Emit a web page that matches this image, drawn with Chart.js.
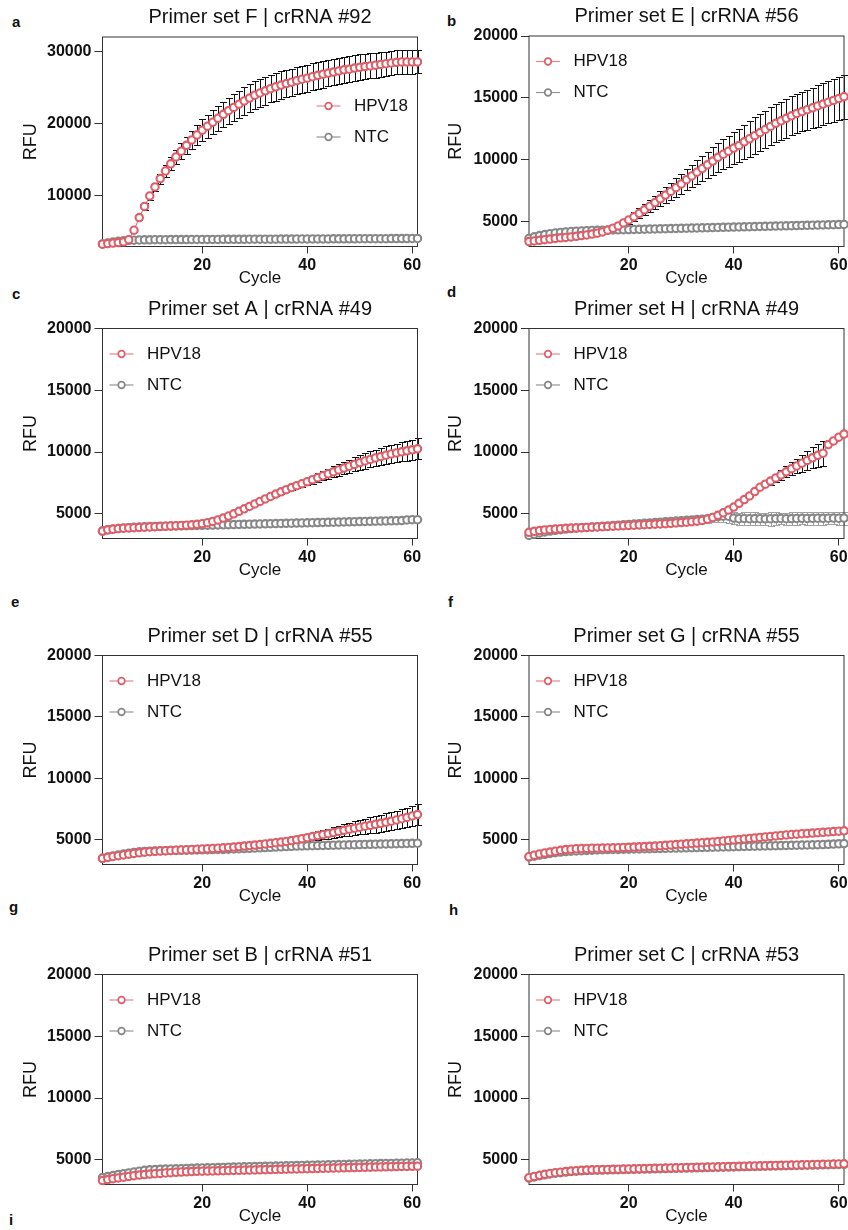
<!DOCTYPE html>
<html>
<head>
<meta charset="utf-8">
<title>HPV18 primer set screening</title>
<script src="https://cdn.jsdelivr.net/npm/chart.js@4.4.1/dist/chart.umd.min.js"></script>
<style>
  body { margin: 0; background: #fff; width: 848px; height: 1230px; position: relative; overflow: hidden;
         font-family: "Liberation Sans", Arial, sans-serif; }
  canvas { position: absolute; }
  .tag { position: absolute; font-weight: bold; font-size: 15px; line-height: 15px; color: #111; }
</style>
</head>
<body>

<div class="tag" style="left:12px;top:14px">a</div>
<div class="tag" style="left:447px;top:13px">b</div>
<div class="tag" style="left:12px;top:286px">c</div>
<div class="tag" style="left:447px;top:284px">d</div>
<div class="tag" style="left:11px;top:594px">e</div>
<div class="tag" style="left:448px;top:594px">f</div>
<div class="tag" style="left:9px;top:899px">g</div>
<div class="tag" style="left:449px;top:902px">h</div>
<div class="tag" style="left:9px;top:1212px">i</div>

<canvas id="cF" width="424" height="290" style="left:0;top:0"></canvas>
<canvas id="cE" width="424" height="290" style="left:424px;top:0"></canvas>
<canvas id="cA" width="424" height="310" style="left:0;top:290px"></canvas>
<canvas id="cH" width="424" height="310" style="left:424px;top:290px"></canvas>
<canvas id="cD" width="424" height="320" style="left:0;top:600px"></canvas>
<canvas id="cG" width="424" height="320" style="left:424px;top:600px"></canvas>
<canvas id="cB" width="424" height="310" style="left:0;top:920px"></canvas>
<canvas id="cC" width="424" height="310" style="left:424px;top:920px"></canvas>

<script>
// cycle numbers (x)
const cycles = [1, 2, 3, 4, 5, 6, 7, 8, 9, 10,
  11, 12, 13, 14, 15, 16, 17, 18, 19, 20,
  21, 22, 23, 24, 25, 26, 27, 28, 29, 30,
  31, 32, 33, 34, 35, 36, 37, 38, 39, 40,
  41, 42, 43, 44, 45, 46, 47, 48, 49, 50,
  51, 52, 53, 54, 55, 56, 57, 58, 59, 60, 61];

const xTicks = [20, 40, 60];
const yTicksF = [10000, 20000, 30000];
const yTicks = [5000, 10000, 15000, 20000];
const seriesNames = ['HPV18', 'NTC'];

// Primer set F | crRNA #92
const hpvF = [3320, 3400, 3480, 3550, 3650, 3950, 5250, 7000, 8550, 10000,
  11250, 12400, 13450, 14450, 15400, 16200, 17000, 17750, 18450, 19100,
  19650, 20200, 20750, 21300, 21800, 22250, 22700, 23150, 23550, 23950,
  24250, 24550, 24850, 25100, 25350, 25550, 25750, 25950, 26150, 26300,
  26500, 26700, 26850, 27000, 27150, 27300, 27450, 27550, 27700, 27800,
  27900, 28000, 28100, 28200, 28300, 28400, 28500, 28550, 28550, 28550, 28550];
const errF = [50, 50, 50, 60, 80, 150, 300, 400, 450, 500,
  600, 700, 800, 900, 1000, 1100, 1200, 1300, 1400, 1500,
  1600, 1650, 1700, 1750, 1800, 1850, 1850, 1900, 1900, 1900,
  1900, 1900, 1900, 1900, 1900, 1880, 1860, 1850, 1850, 1850,
  1850, 1850, 1850, 1840, 1830, 1820, 1810, 1800, 1800, 1780,
  1760, 1740, 1720, 1700, 1680, 1660, 1650, 1640, 1620, 1610, 1600];
const ntcF = [3350, 3500, 3620, 3720, 3800, 3850, 3880, 3900, 3920, 3930,
  3940, 3945, 3950, 3955, 3960, 3960, 3965, 3970, 3970, 3975,
  3980, 3980, 3985, 3990, 3990, 3995, 4000, 4000, 4005, 4010,
  4010, 4015, 4020, 4020, 4025, 4030, 4030, 4035, 4040, 4040,
  4045, 4050, 4050, 4055, 4060, 4060, 4065, 4070, 4070, 4075,
  4080, 4080, 4085, 4090, 4090, 4095, 4100, 4100, 4105, 4110, 4110];

// Primer set E | crRNA #56
const hpvE = [3400, 3450, 3500, 3550, 3600, 3650, 3700, 3730, 3770, 3820,
  3880, 3930, 4000, 4080, 4180, 4320, 4480, 4660, 4900, 5150,
  5400, 5680, 5960, 6250, 6550, 6850, 7150, 7450, 7750, 8050,
  8400, 8700, 9000, 9300, 9600, 9900, 10200, 10450, 10700, 10950,
  11150, 11450, 11700, 11950, 12200, 12450, 12700, 12950, 13150, 13350,
  13550, 13750, 13900, 14050, 14200, 14350, 14500, 14650, 14800, 14950, 15100];
const errE = [100, 100, 100, 100, 100, 100, 100, 100, 100, 100,
  100, 100, 100, 110, 120, 130, 150, 200, 250, 300,
  350, 400, 450, 500, 550, 600, 650, 700, 750, 800,
  850, 900, 950, 1000, 1050, 1100, 1150, 1200, 1250, 1300,
  1350, 1400, 1450, 1480, 1500, 1520, 1530, 1540, 1550, 1560,
  1570, 1580, 1600, 1620, 1640, 1660, 1680, 1700, 1730, 1760, 1780];
const ntcE = [3650, 3780, 3880, 3960, 4030, 4090, 4140, 4180, 4210, 4240,
  4260, 4280, 4300, 4310, 4320, 4330, 4340, 4350, 4360, 4370,
  4380, 4390, 4400, 4410, 4420, 4430, 4440, 4450, 4460, 4470,
  4480, 4490, 4500, 4510, 4520, 4530, 4540, 4550, 4560, 4570,
  4580, 4590, 4600, 4610, 4620, 4630, 4640, 4650, 4660, 4670,
  4680, 4690, 4700, 4710, 4720, 4730, 4740, 4750, 4760, 4770, 4780];

// Primer set A | crRNA #49
const hpvA = [3600, 3700, 3750, 3800, 3830, 3860, 3880, 3900, 3920, 3940,
  3960, 3980, 4000, 4020, 4040, 4060, 4080, 4110, 4150, 4200,
  4280, 4380, 4500, 4650, 4820, 5000, 5200, 5400, 5600, 5800,
  6000, 6200, 6400, 6600, 6780, 6950, 7120, 7280, 7440, 7600,
  7760, 7920, 8080, 8240, 8400, 8550, 8700, 8850, 9000, 9150,
  9280, 9400, 9520, 9630, 9740, 9840, 9930, 10020, 10100, 10180, 10260];
const errA = [50, 50, 50, 50, 50, 50, 50, 50, 50, 50,
  50, 50, 50, 50, 50, 50, 50, 50, 50, 50,
  50, 50, 50, 50, 50, 50, 50, 50, 50, 50,
  80, 100, 120, 140, 160, 180, 200, 230, 260, 290,
  320, 350, 380, 410, 440, 470, 500, 530, 560, 590,
  620, 650, 680, 700, 720, 740, 760, 780, 800, 830, 860];
const ntcA = [3600, 3700, 3760, 3810, 3850, 3880, 3910, 3930, 3950, 3970,
  3980, 3990, 4000, 4010, 4020, 4030, 4040, 4050, 4060, 4070,
  4080, 4090, 4100, 4110, 4120, 4130, 4140, 4150, 4160, 4170,
  4180, 4190, 4200, 4210, 4220, 4230, 4240, 4250, 4260, 4270,
  4280, 4290, 4300, 4310, 4320, 4330, 4340, 4350, 4360, 4370,
  4380, 4390, 4400, 4410, 4420, 4430, 4440, 4450, 4500, 4520, 4520];

// Primer set H | crRNA #49
const hpvH = [3500, 3580, 3640, 3690, 3730, 3760, 3790, 3820, 3840, 3860,
  3880, 3900, 3920, 3940, 3960, 3980, 4000, 4020, 4040, 4060,
  4080, 4100, 4120, 4140, 4160, 4180, 4200, 4230, 4260, 4290,
  4320, 4360, 4400, 4460, 4560, 4700, 4880, 5080, 5300, 5540,
  5850, 6150, 6450, 6800, 7150, 7400, 7650, 7900, 8150, 8400,
  8650, 8870, 9100, 9320, 9530, 9730, 9900, 10600, 10900, 11200, 11450];
const errH = [0, 0, 0, 0, 0, 0, 0, 0, 0, 0,
  0, 0, 0, 0, 0, 0, 0, 0, 0, 0,
  0, 0, 0, 0, 0, 0, 0, 0, 0, 0,
  0, 0, 0, 0, 0, 0, 0, 0, 0, 0,
  0, 0, 0, 0, 0, 0, 300, 350, 400, 450,
  520, 600, 680, 760, 840, 920, 1000, 0, 0, 0, 0];
const ntcH = [3250, 3350, 3450, 3530, 3600, 3660, 3710, 3760, 3800, 3840,
  3870, 3900, 3930, 3960, 3990, 4020, 4050, 4080, 4110, 4140,
  4170, 4200, 4230, 4260, 4290, 4320, 4350, 4380, 4410, 4440,
  4470, 4500, 4530, 4560, 4600, 4700, 4760, 4800, 4800, 4650,
  4600, 4620, 4600, 4610, 4600, 4590, 4600, 4610, 4620, 4600,
  4610, 4620, 4630, 4620, 4630, 4640, 4630, 4640, 4650, 4640, 4650];
const ntcErrH = [80, 80, 80, 80, 80, 80, 80, 80, 80, 80,
  80, 80, 80, 80, 80, 80, 80, 80, 80, 80,
  150, 150, 160, 150, 160, 170, 160, 170, 180, 180,
  200, 220, 250, 280, 320, 380, 450, 500, 520, 500,
  480, 500, 520, 500, 490, 510, 560, 500, 480, 500,
  510, 500, 490, 500, 520, 510, 500, 490, 500, 520, 530];

// Primer set D | crRNA #55
const hpvD = [3500, 3580, 3650, 3720, 3780, 3840, 3900, 3950, 4000, 4040,
  4070, 4100, 4120, 4140, 4160, 4180, 4200, 4220, 4240, 4260,
  4280, 4300, 4330, 4360, 4390, 4420, 4460, 4500, 4540, 4580,
  4620, 4670, 4720, 4770, 4820, 4880, 4950, 5020, 5100, 5180,
  5270, 5350, 5430, 5510, 5600, 5690, 5780, 5870, 5950, 6030,
  6110, 6190, 6270, 6350, 6430, 6520, 6620, 6720, 6830, 6950, 7060];
const errD = [50, 50, 50, 50, 50, 50, 50, 50, 50, 50,
  50, 50, 50, 50, 50, 50, 50, 50, 50, 50,
  50, 50, 50, 50, 50, 50, 50, 50, 50, 50,
  50, 60, 80, 100, 130, 160, 190, 220, 250, 280,
  310, 340, 370, 400, 430, 460, 490, 520, 550, 580,
  610, 640, 670, 700, 720, 740, 760, 780, 800, 820, 840];
const ntcD = [3500, 3600, 3700, 3780, 3850, 3920, 3980, 4030, 4060, 4080,
  4100, 4110, 4120, 4130, 4140, 4150, 4160, 4170, 4180, 4190,
  4200, 4210, 4220, 4230, 4240, 4260, 4280, 4300, 4320, 4340,
  4360, 4380, 4400, 4420, 4440, 4460, 4480, 4500, 4510, 4520,
  4530, 4540, 4550, 4560, 4570, 4580, 4590, 4600, 4610, 4620,
  4630, 4640, 4650, 4660, 4670, 4680, 4690, 4700, 4710, 4720, 4730];

// Primer set G | crRNA #55
const hpvG = [3640, 3760, 3860, 3940, 4010, 4080, 4150, 4210, 4250, 4280,
  4300, 4310, 4320, 4330, 4340, 4350, 4360, 4370, 4385, 4400,
  4420, 4440, 4460, 4480, 4500, 4530, 4560, 4590, 4620, 4650,
  4680, 4710, 4740, 4770, 4800, 4840, 4880, 4920, 4960, 5000,
  5040, 5080, 5120, 5160, 5200, 5240, 5280, 5320, 5360, 5400,
  5440, 5470, 5500, 5530, 5560, 5590, 5620, 5650, 5680, 5710, 5740];
const ntcG = [3600, 3680, 3760, 3830, 3900, 3960, 4010, 4050, 4080, 4100,
  4120, 4140, 4160, 4180, 4200, 4210, 4220, 4230, 4240, 4250,
  4260, 4270, 4280, 4290, 4300, 4310, 4320, 4330, 4340, 4350,
  4360, 4370, 4380, 4390, 4400, 4410, 4420, 4430, 4440, 4450,
  4460, 4470, 4480, 4490, 4500, 4510, 4520, 4530, 4540, 4550,
  4560, 4570, 4580, 4590, 4600, 4610, 4620, 4640, 4660, 4680, 4700];

// Primer set B | crRNA #51
const hpvB = [3320, 3400, 3470, 3530, 3590, 3650, 3710, 3760, 3800, 3840,
  3870, 3900, 3930, 3960, 3990, 4010, 4030, 4050, 4070, 4080,
  4090, 4100, 4110, 4120, 4130, 4140, 4150, 4160, 4170, 4180,
  4190, 4200, 4210, 4220, 4230, 4240, 4250, 4260, 4270, 4280,
  4290, 4300, 4310, 4320, 4330, 4340, 4350, 4360, 4370, 4380,
  4390, 4400, 4410, 4420, 4430, 4440, 4450, 4460, 4460, 4470, 4480];
const ntcB = [3560, 3640, 3720, 3800, 3870, 3940, 4010, 4080, 4150, 4190,
  4210, 4230, 4250, 4260, 4270, 4280, 4300, 4310, 4330, 4340,
  4350, 4360, 4370, 4380, 4400, 4410, 4420, 4430, 4440, 4450,
  4460, 4470, 4480, 4490, 4500, 4510, 4520, 4530, 4540, 4550,
  4560, 4570, 4580, 4590, 4600, 4610, 4620, 4630, 4640, 4650,
  4660, 4670, 4680, 4690, 4700, 4710, 4720, 4730, 4740, 4750, 4760];

// Primer set C | crRNA #53
const hpvC = [3550, 3650, 3740, 3820, 3890, 3950, 4000, 4050, 4090, 4120,
  4150, 4170, 4190, 4200, 4210, 4220, 4230, 4240, 4250, 4260,
  4270, 4280, 4290, 4300, 4310, 4320, 4330, 4340, 4350, 4360,
  4370, 4380, 4390, 4400, 4410, 4420, 4430, 4440, 4450, 4460,
  4470, 4480, 4490, 4500, 4510, 4520, 4530, 4540, 4550, 4560,
  4570, 4580, 4590, 4600, 4610, 4620, 4630, 4640, 4650, 4660, 4670];
const ntcC = [3520, 3610, 3700, 3780, 3850, 3910, 3960, 4010, 4050, 4080,
  4110, 4130, 4150, 4160, 4170, 4180, 4190, 4200, 4210, 4220,
  4230, 4240, 4250, 4260, 4270, 4280, 4290, 4300, 4310, 4320,
  4330, 4340, 4350, 4360, 4370, 4380, 4390, 4400, 4410, 4420,
  4430, 4440, 4450, 4460, 4470, 4480, 4490, 4500, 4510, 4520,
  4530, 4540, 4550, 4560, 4570, 4580, 4590, 4600, 4610, 4620, 4630];

const RED = '#dc5e68';
const GREY = '#878787';
const FONT = '"Liberation Sans", Arial, sans-serif';

Chart.defaults.font.family = FONT;
Chart.defaults.color = '#111';

// error bars (mean +/- SD), drawn under the markers
const errorBars = {
  id: 'errorBars',
  beforeDatasetsDraw(chart) {
    const ctx = chart.ctx;
    const xs = chart.scales.x, ys = chart.scales.y;
    chart.data.datasets.forEach(ds => {
      if (!ds.errors) return;
      ctx.save();
      ctx.strokeStyle = ds.errorColor;
      ctx.lineWidth = 1;
      ds.data.forEach((pt, i) => {
        const e = ds.errors[i];
        if (!e) return;
        const x = Math.round(xs.getPixelForValue(pt.x)) + 0.5;
        const y1 = Math.round(ys.getPixelForValue(pt.y + e)) + 0.5;
        const y2 = Math.round(ys.getPixelForValue(pt.y - e)) + 0.5;
        ctx.beginPath();
        ctx.moveTo(x, y1); ctx.lineTo(x, y2);
        ctx.moveTo(x - 3.5, y1); ctx.lineTo(x + 3.5, y1);
        ctx.moveTo(x - 3.5, y2); ctx.lineTo(x + 3.5, y2);
        ctx.stroke();
      });
      ctx.restore();
    });
  }
};

// frame, panel title and the legend inside the plot
const decor = {
  id: 'decor',
  beforeDatasetsDraw(chart) {
    const {ctx, chartArea: a} = chart;
    ctx.save();
    ctx.strokeStyle = '#333';
    ctx.lineWidth = 1;
    ctx.strokeRect(a.left, a.top, a.right - a.left, a.bottom - a.top);
    ctx.restore();
  },
  afterDraw(chart, args, opts) {
    const {ctx, chartArea: a} = chart;
    ctx.save();
    ctx.fillStyle = '#111';
    ctx.font = '20px ' + FONT;
    ctx.textAlign = 'center';
    ctx.textBaseline = 'alphabetic';
    ctx.fillText(opts.title, (a.left + a.right) / 2, a.top - 14);

    const lx = opts.legendRight ? a.left + 226 : a.left + 19;
    const ly = opts.legendRight ? a.top + 69 : a.top + 25.5;
    chart.data.datasets.forEach((ds, i) => {
      const y = ly + i * 31;
      ctx.strokeStyle = ds.legendLine;
      ctx.lineWidth = 1.2;
      ctx.beginPath();
      ctx.moveTo(lx - 12, y); ctx.lineTo(lx + 12, y);
      ctx.stroke();
      ctx.beginPath();
      ctx.arc(lx, y, 3.3, 0, Math.PI * 2);
      ctx.fillStyle = '#fff';
      ctx.fill();
      ctx.lineWidth = 1.7;
      ctx.strokeStyle = ds.borderColor;
      ctx.stroke();
      ctx.fillStyle = '#111';
      ctx.font = '17px ' + FONT;
      ctx.textAlign = 'left';
      ctx.textBaseline = 'middle';
      ctx.fillText(ds.label, lx + 25.5, y);
    });
    ctx.restore();
  }
};

const LEFT = {pl: 19.8, yw: 82.7, pr: 6.5};
const RIGHT = {pl: 21.5, yw: 83.5, pr: 4};
const XH = 42.2;

const panels = [
  {canvas: 'cF', title: 'Primer set F | crRNA #92', col: LEFT, top: 37, bottom: 1.3, hpv: hpvF, hpvErr: errF, ntc: ntcF, yMax: 32000, ticks: yTicksF, legendRight: true},
  {canvas: 'cE', title: 'Primer set E | crRNA #56', col: RIGHT, top: 36, bottom: 1.3, hpv: hpvE, hpvErr: errE, ntc: ntcE, yMax: 20000, ticks: yTicks},
  {canvas: 'cA', title: 'Primer set A | crRNA #49', col: LEFT, top: 38.5, bottom: 19.3, hpv: hpvA, hpvErr: errA, ntc: ntcA, yMax: 20000, ticks: yTicks},
  {canvas: 'cH', title: 'Primer set H | crRNA #49', col: RIGHT, top: 38.5, bottom: 19.3, hpv: hpvH, hpvErr: errH, ntc: ntcH, ntcErr: ntcErrH, yMax: 20000, ticks: yTicks},
  {canvas: 'cD', title: 'Primer set D | crRNA #55', col: LEFT, top: 55.5, bottom: 13.3, hpv: hpvD, hpvErr: errD, ntc: ntcD, yMax: 20000, ticks: yTicks},
  {canvas: 'cG', title: 'Primer set G | crRNA #55', col: RIGHT, top: 55.5, bottom: 13.3, hpv: hpvG, ntc: ntcG, yMax: 20000, ticks: yTicks},
  {canvas: 'cB', title: 'Primer set B | crRNA #51', col: LEFT, top: 54.5, bottom: 3.3, hpv: hpvB, ntc: ntcB, yMax: 20000, ticks: yTicks},
  {canvas: 'cC', title: 'Primer set C | crRNA #53', col: RIGHT, top: 54.5, bottom: 3.3, hpv: hpvC, ntc: ntcC, yMax: 20000, ticks: yTicks}
];

function toPoints(values) {
  return values.map((v, i) => ({x: cycles[i], y: v}));
}

function series(label, values, errors, color, legendLine, errorColor) {
  return {
    label: label,
    data: toPoints(values),
    errors: errors || null,
    errorColor: errorColor,
    legendLine: legendLine,
    borderColor: color,
    borderWidth: 1,
    pointRadius: 3.7,
    pointBorderWidth: 2.1,
    pointBackgroundColor: '#fff',
    pointBorderColor: color,
    pointHoverRadius: 3.7,
    clip: false
  };
}

panels.forEach(p => {
  new Chart(document.getElementById(p.canvas), {
    type: 'line',
    data: {
      datasets: [
        series(seriesNames[0], p.hpv, p.hpvErr, RED, 'rgba(220,94,104,0.75)', '#111'),
        series(seriesNames[1], p.ntc, p.ntcErr, GREY, 'rgba(120,120,120,0.8)', '#a0a0a0')
      ]
    },
    options: {
      responsive: false,
      animation: false,
      devicePixelRatio: 1,
      events: [],
      layout: {
        autoPadding: false,
        padding: {left: p.col.pl, right: p.col.pr, top: p.top, bottom: p.bottom}
      },
      plugins: {
        legend: {display: false},
        tooltip: {enabled: false},
        decor: {title: p.title, legendRight: !!p.legendRight}
      },
      scales: {
        x: {
          type: 'linear',
          min: 1,
          max: 61,
          afterBuildTicks: s => { s.ticks = xTicks.map(v => ({value: v})); },
          afterFit: s => { s.height = XH; s.paddingLeft = 0; s.paddingRight = 0; },
          border: {display: false},
          grid: {drawOnChartArea: false, drawTicks: true, tickLength: 7, color: '#333', lineWidth: 1},
          ticks: {font: {size: 16, weight: 'bold'}, color: '#111', padding: 2, maxRotation: 0, autoSkip: false, callback: v => v},
          title: {display: true, text: 'Cycle', font: {size: 17}, color: '#111', padding: 0}
        },
        y: {
          min: 3000,
          max: p.yMax,
          afterBuildTicks: s => { s.ticks = p.ticks.map(v => ({value: v})); },
          afterFit: s => { s.width = p.col.yw; s.paddingTop = 0; s.paddingBottom = 0; },
          border: {display: false},
          grid: {drawOnChartArea: false, drawTicks: true, tickLength: 8, color: '#333', lineWidth: 1},
          ticks: {font: {size: 16, weight: 'bold'}, color: '#111', padding: 3, autoSkip: false, callback: v => v},
          title: {display: true, text: 'RFU', font: {size: 18}, color: '#111', padding: 0}
        }
      }
    },
    plugins: [errorBars, decor]
  });
});
</script>
</body>
</html>
